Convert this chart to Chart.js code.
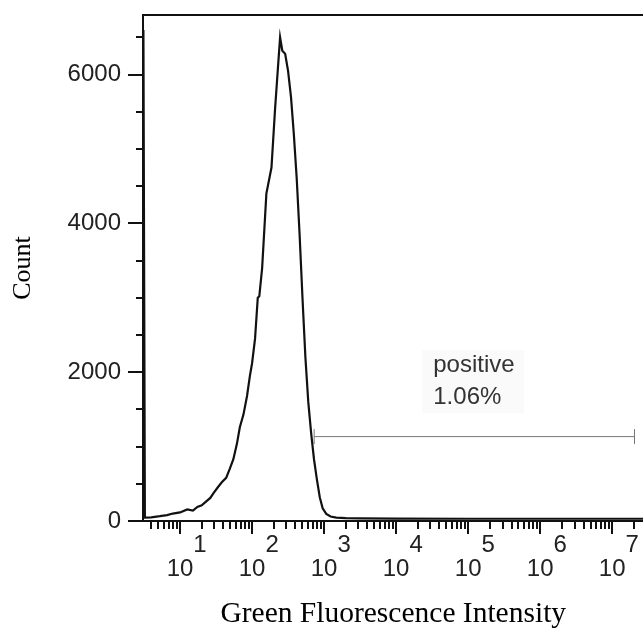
<!DOCTYPE html>
<html>
<head>
<meta charset="utf-8">
<script src="https://cdn.jsdelivr.net/npm/chart.js@4.4.1/dist/chart.umd.min.js"></script>
<style>
  html, body { margin: 0; padding: 0; background: #fff; overflow: hidden; }
  #wrap { width: 643px; height: 629px; position: relative; overflow: hidden; }
  #c { position: absolute; left: 0; top: 0; }
</style>
</head>
<body>
<div id="wrap"><canvas id="c" width="652" height="629"></canvas></div>
<script>
// ---------- data ----------
const intensity = [3.1, 3.25, 3.98, 5.25, 6.61, 7.94, 10, 12.6, 15.1, 17.4, 20, 22.9, 26.3, 29.5, 33.9, 38, 43.7, 49, 55, 61.7, 67.6, 75.9, 85.1, 93.3, 100, 110, 120, 126, 138, 158, 186, 209, 229, 245, 263, 288, 316, 347, 380, 417, 457, 501, 550, 603, 661, 724, 794, 871, 955, 1072, 1230, 1479, 1995, 3162, 1e4, 1e5, 1e6, 1e7, 2.7e7];
const counts    = [6600, 45, 50, 65, 80, 100, 115, 155, 140, 190, 210, 260, 310, 380, 460, 520, 580, 700, 830, 1040, 1260, 1430, 1680, 1950, 2120, 2450, 3000, 3020, 3400, 4400, 4750, 5550, 6100, 6500, 6320, 6280, 6050, 5700, 5200, 4600, 3850, 3000, 2200, 1600, 1180, 830, 560, 320, 170, 95, 60, 45, 38, 35, 32, 30, 30, 30, 30];

const gateRange = [728, 2.04e7];     // "positive" gate, x extent
const gateLevel = 1134;              // gate drawn at this count level
const gateText = ['positive', '1.06%'];
const gateTextAnchor = [32800, 2000]; // x intensity, y count of first text baseline

const xTickValues = [10, 100, 1000, 10000, 100000, 1000000, 10000000];
const xTickExponents = ['1', '2', '3', '4', '5', '6', '7'];
const yTickValues = [0, 2000, 4000, 6000];
const yMinorStep = 500;
const xRange = [3.06, 2.72e7];
const yRange = [0, 6800];
const xTitle = 'Green Fluorescence Intensity';
const yTitle = 'Count';

// ---------- styling ----------
const SANS = '"Liberation Sans", Arial, Helvetica, sans-serif';
const SERIF = '"Liberation Serif", "Times New Roman", Times, serif';

function noPad(s) { s.paddingTop = 0; s.paddingBottom = 0; s.paddingLeft = 0; s.paddingRight = 0; }

const frameTicks = {
  id: 'frameTicks',
  afterDraw(chart) {
    const { ctx, chartArea: a, scales: { x, y } } = chart;
    ctx.save();
    ctx.strokeStyle = '#111';
    ctx.lineWidth = 2;
    // top frame line
    ctx.beginPath();
    ctx.moveTo(a.left - 1, a.top);
    ctx.lineTo(a.right, a.top);
    ctx.stroke();
    // x ticks (log, major at decades)
    for (let e = 0; e <= 7; e++) {
      for (let m = 1; m <= 9; m++) {
        const v = m * Math.pow(10, e);
        if (v < x.min || v > x.max) continue;
        const px = Math.round(x.getPixelForValue(v));
        const len = m === 1 ? 13 : 8;
        ctx.beginPath();
        ctx.moveTo(px, a.bottom);
        ctx.lineTo(px, a.bottom + len);
        ctx.stroke();
      }
    }
    // y ticks
    for (let v = yRange[0]; v <= yRange[1]; v += yMinorStep) {
      const py = Math.round(y.getPixelForValue(v));
      const len = yTickValues.includes(v) ? 15 : 7;
      ctx.beginPath();
      ctx.moveTo(a.left, py);
      ctx.lineTo(a.left - len, py);
      ctx.stroke();
    }
    ctx.restore();
  }
};

const gateLabel = {
  id: 'gateLabel',
  beforeDatasetsDraw(chart) {
    const { ctx, scales: { x, y } } = chart;
    const px = x.getPixelForValue(gateTextAnchor[0]);
    const py = y.getPixelForValue(gateTextAnchor[1]);
    ctx.save();
    ctx.fillStyle = '#fafafa';
    ctx.fillRect(px - 11, py - 22, 102, 63);
    ctx.font = '24px ' + SANS;
    ctx.fillStyle = '#333';
    ctx.textBaseline = 'alphabetic';
    ctx.textAlign = 'left';
    ctx.fillText(gateText[0], px, py);
    ctx.fillText(gateText[1], px, py + 32);
    ctx.restore();
  }
};

new Chart(document.getElementById('c'), {
  type: 'line',
  data: {
    datasets: [
      {
        data: intensity.map((v, i) => ({ x: v, y: counts[i] })),
        borderColor: '#111',
        borderWidth: 2.2,
        pointRadius: 0,
        tension: 0,
        fill: false
      },
      {
        data: gateRange.map(v => ({ x: v, y: gateLevel })),
        borderColor: '#777',
        borderWidth: 1,
        pointStyle: 'line',
        rotation: 90,
        pointRadius: 7.5,
        pointBorderColor: '#777',
        pointBorderWidth: 1,
        fill: false
      }
    ]
  },
  options: {
    responsive: false,
    animation: false,
    devicePixelRatio: 1,
    events: [],
    layout: { padding: { top: 15, right: 0, bottom: 0, left: 0 } },
    plugins: { legend: { display: false }, tooltip: { enabled: false } },
    scales: {
      x: {
        type: 'logarithmic',
        min: xRange[0],
        max: xRange[1],
        grid: { display: false, drawTicks: false },
        border: { display: true, color: '#111', width: 2 },
        afterBuildTicks(s) { s.ticks = xTickValues.map(v => ({ value: v, major: true })); },
        afterFit(s) { s.height = 108; noPad(s); },
        ticks: {
          autoSkip: false, maxRotation: 0, minRotation: 0,
          padding: 12, color: '#222',
          font: { family: SANS, size: 24, lineHeight: 1.0 },
          callback: (v) => {
            const i = xTickValues.indexOf(v);
            return i < 0 ? '' : ['      ' + xTickExponents[i], '10'];
          }
        },
        title: {
          display: true, text: xTitle, color: '#000',
          font: { family: SERIF, size: 29.5 },
          padding: { top: 0, bottom: -3 }
        }
      },
      y: {
        type: 'linear',
        min: yRange[0],
        max: yRange[1],
        grid: { display: false, drawTicks: false },
        border: { display: true, color: '#111', width: 2 },
        afterBuildTicks(s) { s.ticks = yTickValues.map(v => ({ value: v })); },
        afterFit(s) { s.width = 143; noPad(s); },
        ticks: {
          padding: 22, color: '#222',
          font: { family: SANS, size: 24 },
          callback: (v) => String(v)
        },
        title: {
          display: true, text: yTitle, color: '#000',
          font: { family: SERIF, size: 26 },
          padding: { top: 8, bottom: 0 }
        }
      }
    }
  },
  plugins: [frameTicks, gateLabel]
});
</script>
</body>
</html>
